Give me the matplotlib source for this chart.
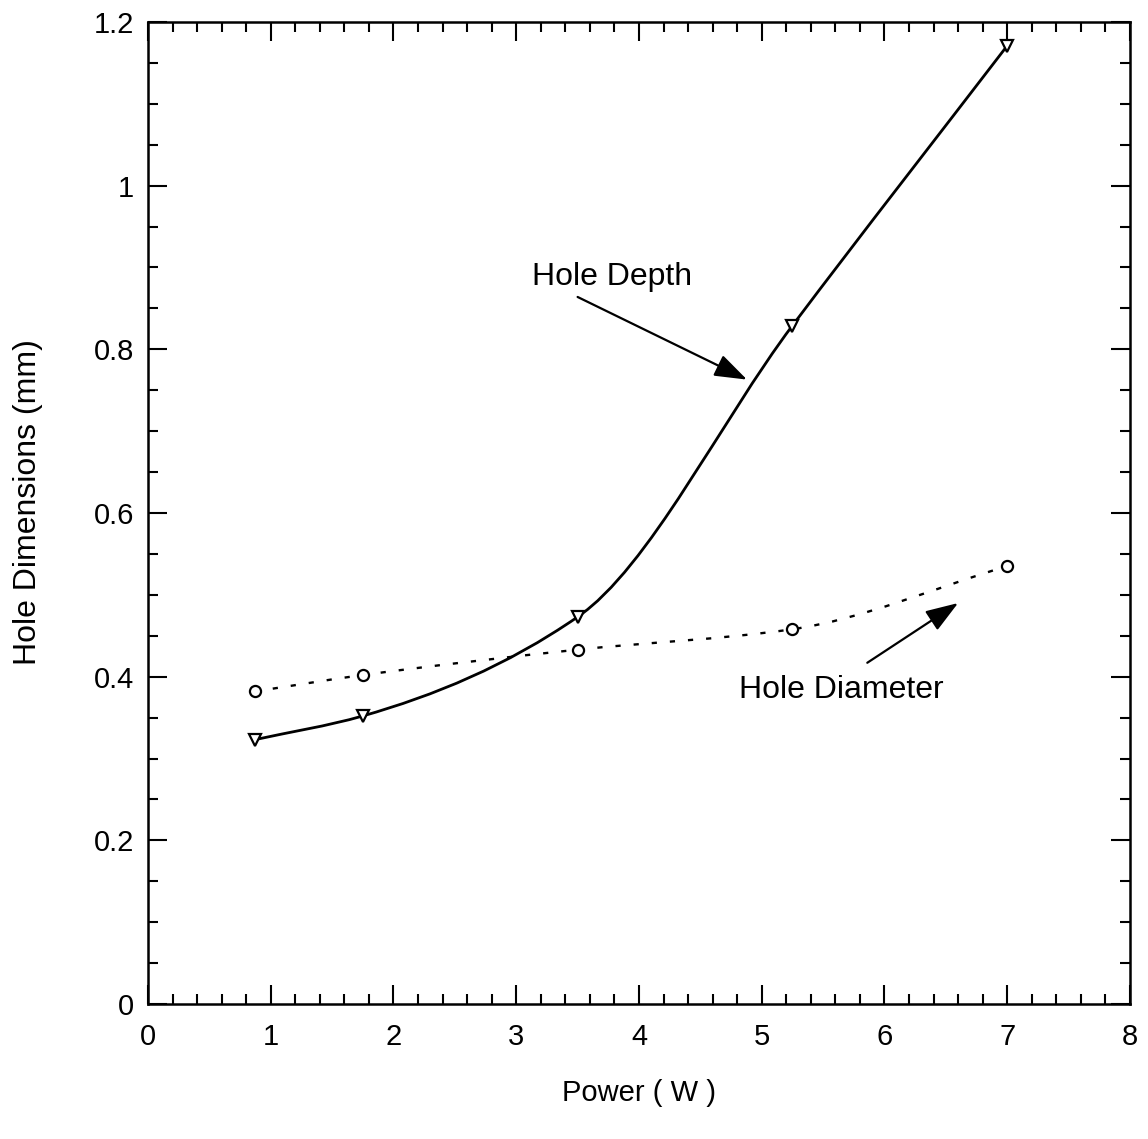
import numpy as np
import matplotlib
matplotlib.use("Agg")
import matplotlib.pyplot as plt
from matplotlib.path import Path
from matplotlib.patches import PathPatch
from matplotlib.ticker import MultipleLocator

plt.rcParams['font.family'] = ['Liberation Sans', 'DejaVu Sans']

power = [0.87, 1.75, 3.5, 5.25, 7.0]
hole_depth = [0.323, 0.352, 0.473, 0.829, 1.171]
hole_diameter = [0.382, 0.402, 0.433, 0.458, 0.535]

x_ticks = [0, 1, 2, 3, 4, 5, 6, 7, 8]
y_ticks = [0, 0.2, 0.4, 0.6, 0.8, 1, 1.2]
y_tick_labels = ["0", "0.2", "0.4", "0.6", "0.8", "1", "1.2"]


def smooth_path(xs, ys):
    # PCHIP-style tangents, drawn as cubic Bezier segments
    xs = np.asarray(xs, float)
    ys = np.asarray(ys, float)
    n = len(xs)
    h = np.diff(xs)
    d = np.diff(ys) / h
    m = np.zeros(n)
    m[0], m[-1] = d[0], d[-1]
    for i in range(1, n - 1):
        if d[i - 1] * d[i] <= 0:
            m[i] = 0
        else:
            w1 = 2 * h[i] + h[i - 1]
            w2 = h[i] + 2 * h[i - 1]
            m[i] = (w1 + w2) / (w1 / d[i - 1] + w2 / d[i])
    verts = [(xs[0], ys[0])]
    codes = [Path.MOVETO]
    for i in range(n - 1):
        verts += [(xs[i] + h[i] / 3, ys[i] + m[i] * h[i] / 3),
                  (xs[i + 1] - h[i] / 3, ys[i + 1] - m[i + 1] * h[i] / 3),
                  (xs[i + 1], ys[i + 1])]
        codes += [Path.CURVE4] * 3
    return Path(verts, codes)


fig = plt.figure(figsize=(11.48, 11.39), dpi=100)
ax = fig.add_axes([0.1289, 0.1185, 0.8554, 0.8622])

ax.add_patch(PathPatch(smooth_path(power, hole_depth), fill=False,
                       edgecolor='black', lw=2.0))
ax.add_patch(PathPatch(smooth_path(power, hole_diameter), fill=False,
                       edgecolor='black', lw=1.7, linestyle=(0, (2.2, 5.5))))
ax.plot(power, hole_depth, linestyle='none', marker='v', markersize=9,
        markerfacecolor='white', markeredgecolor='black', markeredgewidth=1.6)
ax.plot(power, hole_diameter, linestyle='none', marker='o', markersize=8,
        markerfacecolor='white', markeredgecolor='black', markeredgewidth=1.6)

arrow_style = dict(arrowstyle='-|>,head_length=2.0,head_width=0.7',
                   color='black', lw=1.6, shrinkA=0, shrinkB=0)
ax.text(3.78, 0.879, "Hole Depth", fontsize=23, ha='center', va='baseline')
ax.annotate("", xy=(4.88, 0.763), xytext=(3.50, 0.864), arrowprops=arrow_style)
ax.text(5.65, 0.374, "Hole Diameter", fontsize=23, ha='center', va='baseline')
ax.annotate("", xy=(6.60, 0.490), xytext=(5.86, 0.417), arrowprops=arrow_style)

ax.set_xlim(0, 8)
ax.set_ylim(0, 1.2)
ax.set_xticks(x_ticks)
ax.set_yticks(y_ticks)
ax.set_yticklabels(y_tick_labels)
ax.xaxis.set_minor_locator(MultipleLocator(0.2))
ax.yaxis.set_minor_locator(MultipleLocator(0.05))
ax.tick_params(which='both', direction='in', top=True, right=True,
               labelsize=21, width=1.5)
ax.tick_params(axis='x', pad=14)
ax.tick_params(axis='y', pad=10)
ax.tick_params(which='major', length=14)
ax.tick_params(which='minor', length=7)
for s in ax.spines.values():
    s.set_linewidth(1.8)

ax.set_xlabel("Power ( W )", fontsize=21)
ax.set_ylabel("Hole Dimensions (mm)", fontsize=23)
ax.xaxis.set_label_coords(0.5, -0.076)
ax.yaxis.set_label_coords(-0.107, 0.511)

fig.savefig("out.png", dpi=100)
